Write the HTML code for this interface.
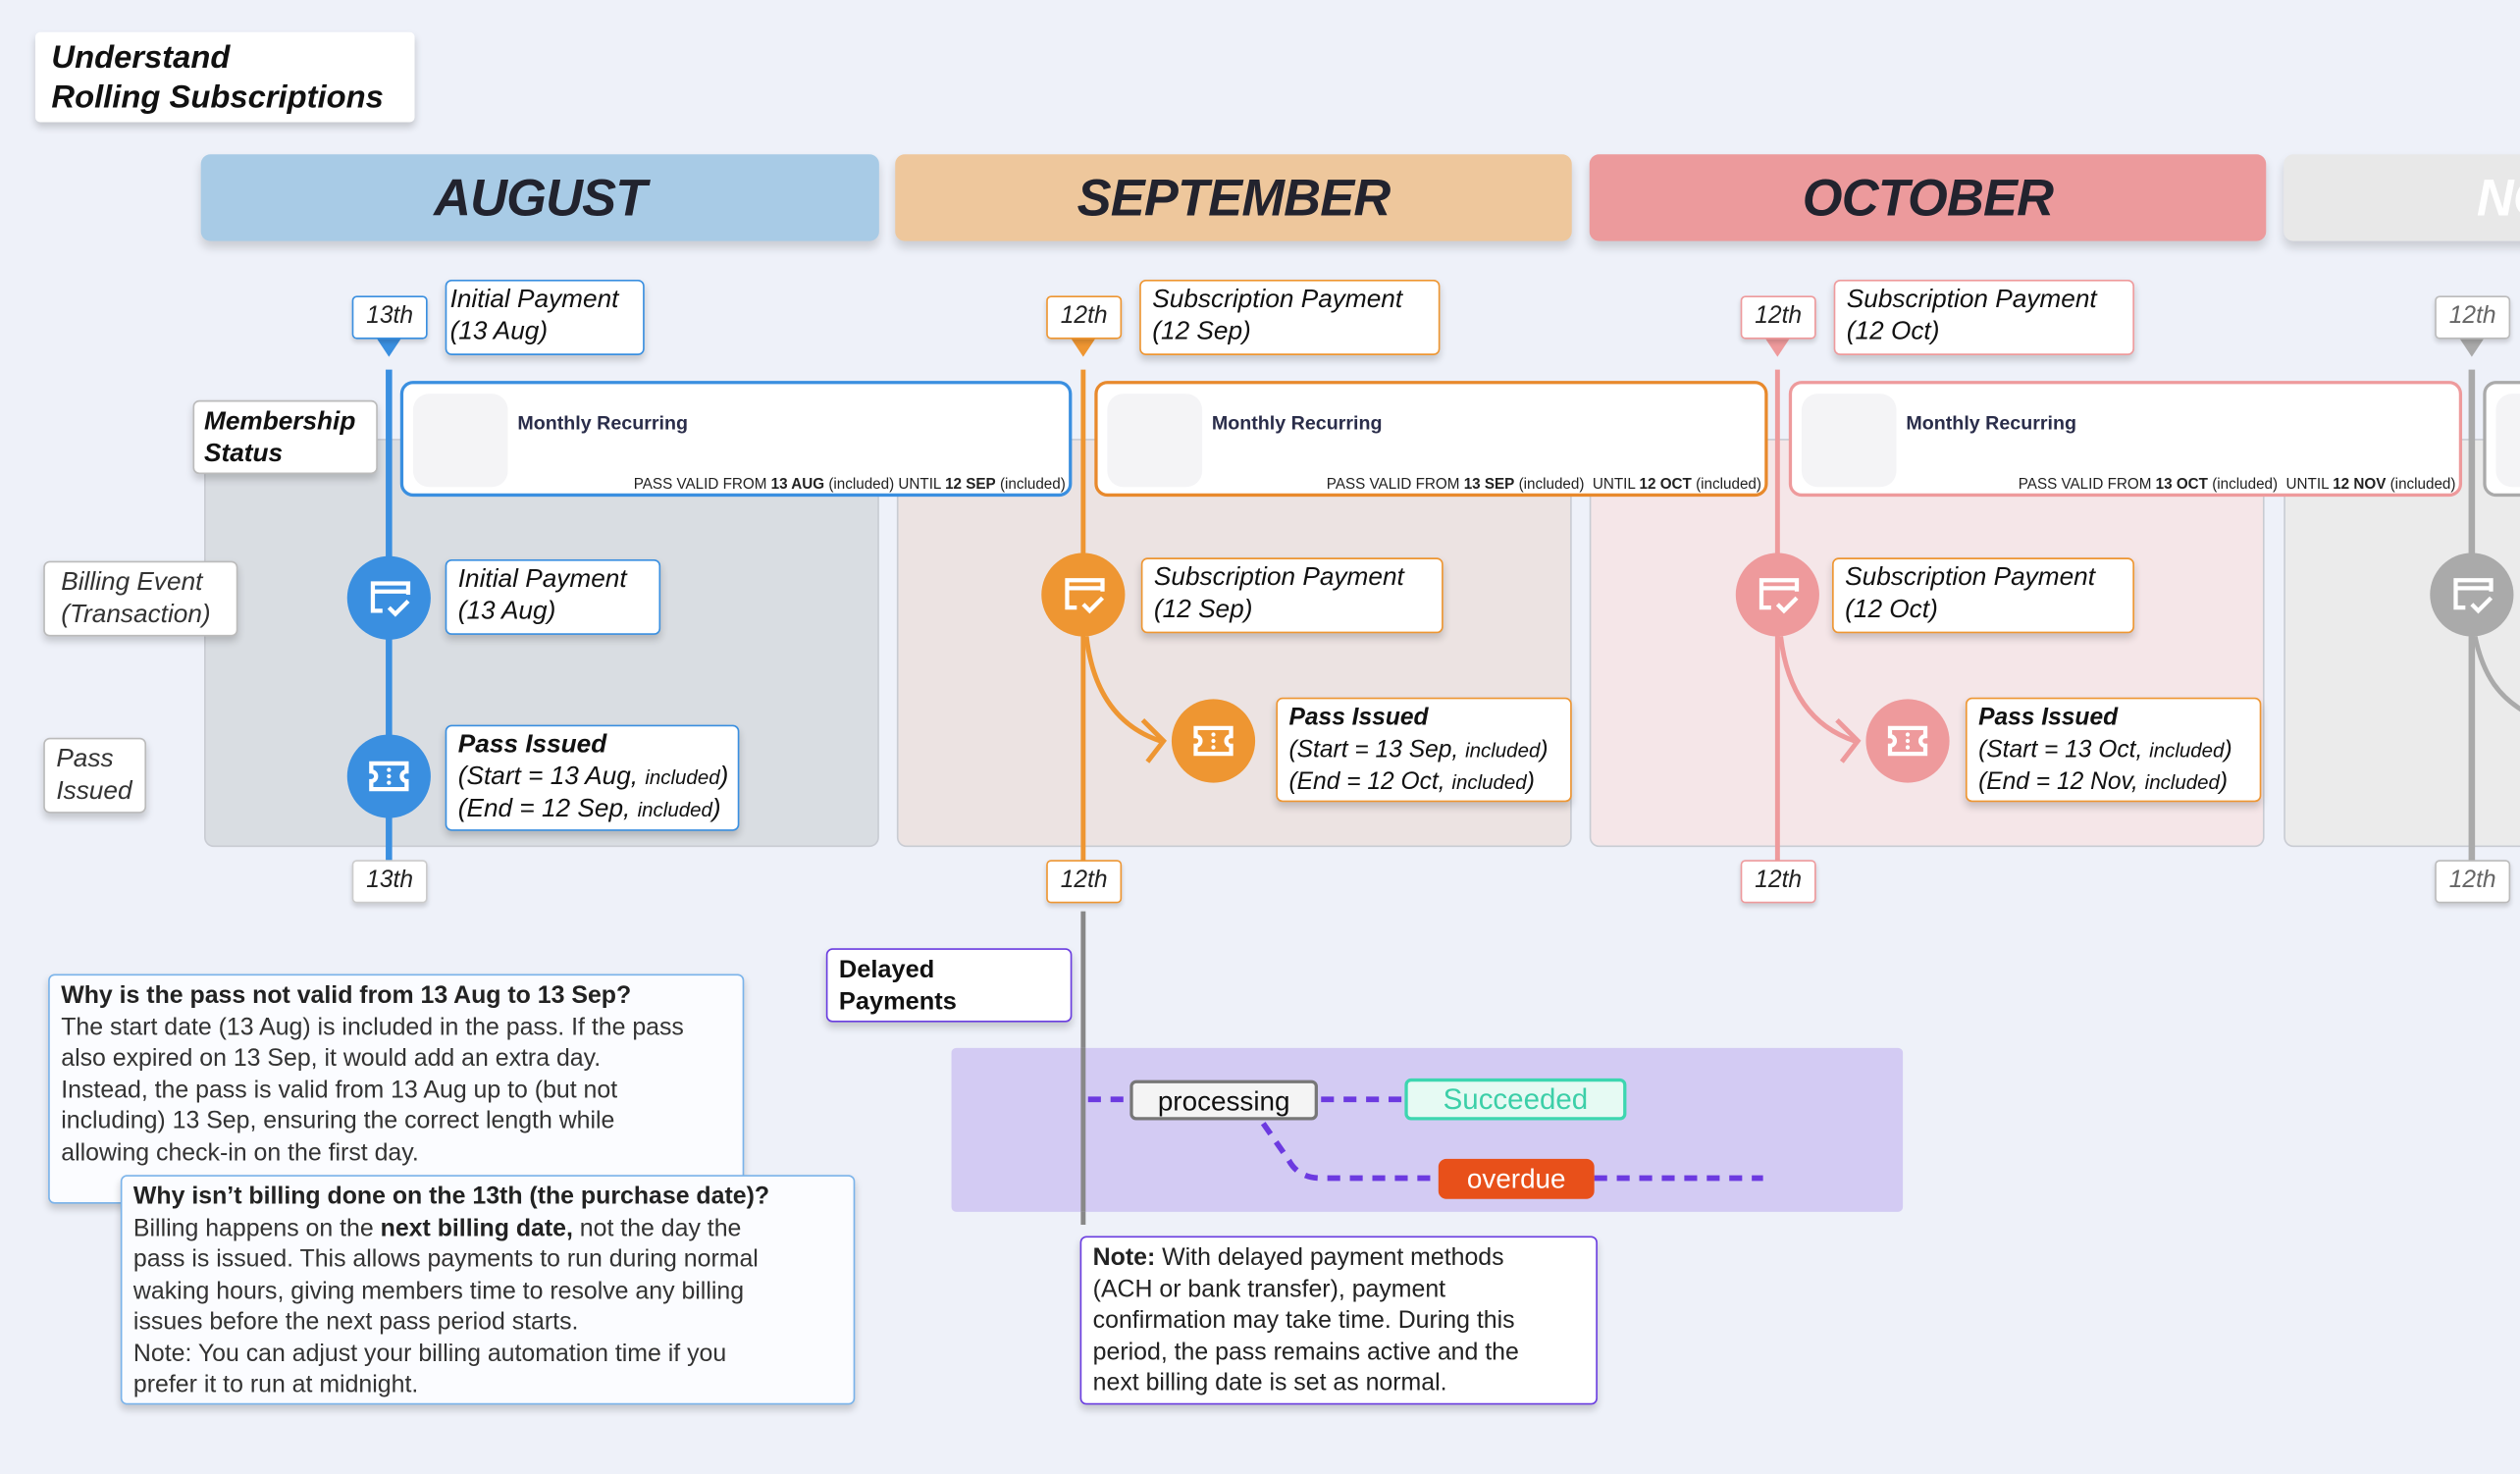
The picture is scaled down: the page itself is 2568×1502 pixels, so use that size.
<!DOCTYPE html>
<html><head><meta charset="utf-8"><style>
html,body{margin:0;padding:0;}
body{width:2568px;height:1502px;overflow:hidden;background:#eef1f9;font-family:"Liberation Sans",sans-serif;position:relative;}
#clip{position:absolute;left:0;top:0;width:2568px;height:1502px;overflow:hidden;}
#w{position:absolute;left:0;top:0;width:1568px;height:917px;transform:scale(1.63776);transform-origin:0 0;overflow:hidden;}
.a{position:absolute;box-sizing:border-box;}
.box{position:absolute;box-sizing:border-box;background:#fff;border:1.5px solid #ccc;border-radius:4px;box-shadow:0 3px 5px rgba(0,0,0,.18);color:#111;}
.hdr{position:absolute;top:96px;height:54px;border-radius:6px;box-shadow:0 4px 6px rgba(0,0,0,.15);font-weight:bold;font-style:italic;font-size:32px;color:#22232e;text-align:center;line-height:54px;letter-spacing:-0.5px;overflow:hidden;}
.panel{position:absolute;top:273px;height:254px;border:1px solid #c9ccd3;border-radius:6px;box-sizing:border-box;}
.tag{position:absolute;width:47px;height:27px;background:#fff;border:1.5px solid;border-radius:3px;box-sizing:border-box;font-style:italic;font-size:15px;text-align:center;line-height:24px;color:#222;box-shadow:0 2px 3px rgba(0,0,0,.15);}
.lbl{font-size:16px;line-height:19.5px;padding:2px 0 0 7px;font-style:italic;}
.status{position:absolute;top:237px;height:72px;background:#fff;border:2.5px solid;border-radius:8px;box-sizing:border-box;}
.status .sq{position:absolute;left:6px;top:6px;width:59px;height:58px;background:#f4f4f6;border-radius:10px;}
.status .mr{position:absolute;left:71px;top:17px;font-weight:bold;font-size:12px;color:#2a2d4a;}
.status .pv{position:absolute;right:2px;bottom:1px;font-size:9.3px;color:#222;white-space:nowrap;}
.note{font-size:15.2px;line-height:19.5px;color:#333;padding:3px 7px;white-space:nowrap;}
</style></head><body><div id="clip"><div id="w">

<div class="box" style="left:22px;top:20px;width:236px;height:56px;border:none;padding:4px 10px;font-weight:bold;font-style:italic;font-size:20px;line-height:24.5px;border-radius:3px;">Understand<br>Rolling Subscriptions</div>

<div class="hdr" style="left:125px;width:422px;background:#a8cbe6;">AUGUST</div>
<div class="hdr" style="left:557px;width:421px;background:#eec79c;">SEPTEMBER</div>
<div class="hdr" style="left:989px;width:421px;background:#ec9a9c;">OCTOBER</div>
<div class="hdr" style="left:1421px;width:421px;background:#e8e8e8;color:#fff;">NOVEMBER</div>

<div class="panel" style="left:127px;width:420px;background:#d9dde2;"></div>
<div class="panel" style="left:558px;width:420px;background:#ece3e2;"></div>
<div class="panel" style="left:989px;width:420px;background:#f5e6e8;"></div>
<div class="panel" style="left:1421px;width:200px;background:#ebebeb;"></div>

<svg class="a" style="left:0;top:0" width="1568" height="917">
 <line x1="242" y1="230" x2="242" y2="560" stroke="#3a8fe0" stroke-width="4"/>
 <line x1="674" y1="230" x2="674" y2="560" stroke="#ee9632" stroke-width="3"/>
 <line x1="1106" y1="230" x2="1106" y2="560" stroke="#ee9a9c" stroke-width="3"/>
 <line x1="1538" y1="230" x2="1538" y2="560" stroke="#aaa" stroke-width="4"/>
 <line x1="674" y1="567" x2="674" y2="762" stroke="#888" stroke-width="3"/>
 <path d="M676 396 C680 430 695 452 722 461" fill="none" stroke="#ee9632" stroke-width="3"/>
 <path d="M711 448 L724 461 L714 474" fill="none" stroke="#ee9632" stroke-width="3"/>
 <path d="M1108 396 C1112 430 1127 452 1154 461" fill="none" stroke="#ee9a9c" stroke-width="3"/>
 <path d="M1143 448 L1156 461 L1146 474" fill="none" stroke="#ee9a9c" stroke-width="3"/>
 <path d="M1540 396 C1545 420 1555 435 1575 445" fill="none" stroke="#aaa" stroke-width="3"/>
 <path d="M234 210 L250 210 L242 222 Z" fill="#3a8fe0"/>
 <path d="M666 210 L682 210 L674 222 Z" fill="#ee9632"/>
 <path d="M1098 210 L1114 210 L1106 222 Z" fill="#ee9a9c"/>
 <path d="M1530 210 L1546 210 L1538 222 Z" fill="#aaa"/>
</svg>

<div class="tag" style="left:219px;top:184px;border-color:#3a8fe0;">13th</div>
<div class="tag" style="left:651px;top:184px;border-color:#ee9632;">12th</div>
<div class="tag" style="left:1083px;top:184px;border-color:#ee9a9c;">12th</div>
<div class="tag" style="left:1515px;top:184px;border-color:#bbb;color:#666;">12th</div>
<div class="tag" style="left:219px;top:535px;border-color:#ccc;">13th</div>
<div class="tag" style="left:651px;top:535px;border-color:#ee9632;">12th</div>
<div class="tag" style="left:1083px;top:535px;border-color:#ee9a9c;">12th</div>
<div class="tag" style="left:1515px;top:535px;border-color:#bbb;color:#666;">12th</div>

<div class="box lbl" style="left:277px;top:174px;width:124px;height:47px;border-color:#3a8fe0;padding-left:2px;">Initial Payment<br>(13 Aug)</div>
<div class="box lbl" style="left:709px;top:174px;width:187px;height:47px;border-color:#ee9632;">Subscription Payment<br>(12 Sep)</div>
<div class="box lbl" style="left:1141px;top:174px;width:187px;height:47px;border-color:#ee9a9c;">Subscription Payment<br>(12 Oct)</div>

<div class="status" style="left:249px;width:418px;border-color:#3a8fe0;"><div class="sq"></div><div class="mr">Monthly Recurring</div><div class="pv">PASS VALID FROM <b>13 AUG</b> (included) UNTIL <b>12 SEP</b> (included)</div></div>
<div class="status" style="left:681px;width:419px;border-color:#e8892c;"><div class="sq"></div><div class="mr">Monthly Recurring</div><div class="pv">PASS VALID FROM <b>13 SEP</b> (included)&nbsp; UNTIL <b>12 OCT</b> (included)</div></div>
<div class="status" style="left:1113px;width:419px;border-color:#ee9a9c;"><div class="sq"></div><div class="mr">Monthly Recurring</div><div class="pv">PASS VALID FROM <b>13 OCT</b> (included)&nbsp; UNTIL <b>12 NOV</b> (included)</div></div>
<div class="status" style="left:1545px;width:100px;border-color:#aaa;"><div class="sq"></div></div>

<div class="box" style="left:120px;top:249px;width:115px;height:46px;border-color:#bbb;font-weight:bold;font-style:italic;font-size:16px;line-height:19.5px;padding:3px 6px;">Membership<br>Status</div>
<div class="box" style="left:27px;top:349px;width:121px;height:47px;border-color:#bbb;font-style:italic;font-size:16px;line-height:19.5px;padding:3px 10px;color:#333;">Billing Event<br>(Transaction)</div>
<div class="box" style="left:27px;top:459px;width:64px;height:47px;border-color:#bbb;font-style:italic;font-size:16px;line-height:19.5px;padding:3px 7px;color:#333;">Pass<br>Issued</div>

<svg width="0" height="0" style="position:absolute"><defs>
<g id="card"><path d="M-10 4 V-9 H12 V-2 M-10 -4 H12 M-10 4 V8 H-4" fill="none" stroke="#fff" stroke-width="2.6"/><path d="M0 6 L4 10 L12 2" fill="none" stroke="#fff" stroke-width="2.6"/></g>
<g id="tick"><path d="M-11 -8 H11 V-3 A3 3 0 0 0 11 3 V8 H-11 V3 A3 3 0 0 0 -11 -3 Z" fill="none" stroke="#fff" stroke-width="2.6"/><circle cx="0" cy="-4" r="1.3" fill="#fff"/><circle cx="0" cy="0" r="1.3" fill="#fff"/><circle cx="0" cy="4" r="1.3" fill="#fff"/></g>
</defs></svg>
<svg class="a" style="left:0;top:0" width="1568" height="917">
 <circle cx="242" cy="372" r="26" fill="#3a8fe0"/><use href="#card" x="242" y="372"/>
 <circle cx="242" cy="483" r="26" fill="#3a8fe0"/><use href="#tick" x="242" y="483"/>
 <circle cx="674" cy="370" r="26" fill="#ee9632"/><use href="#card" x="674" y="370"/>
 <circle cx="755" cy="461" r="26" fill="#ee9632"/><use href="#tick" x="755" y="461"/>
 <circle cx="1106" cy="370" r="26" fill="#ee9a9c"/><use href="#card" x="1106" y="370"/>
 <circle cx="1187" cy="461" r="26" fill="#ee9a9c"/><use href="#tick" x="1187" y="461"/>
 <circle cx="1538" cy="370" r="26" fill="#aaa"/><use href="#card" x="1538" y="370"/>
</svg>

<div class="box lbl" style="left:277px;top:348px;width:134px;height:47px;border-color:#3a8fe0;">Initial Payment<br>(13 Aug)</div>
<div class="box lbl" style="left:710px;top:347px;width:188px;height:47px;border-color:#ee9632;">Subscription Payment<br>(12 Sep)</div>
<div class="box lbl" style="left:1140px;top:347px;width:188px;height:47px;border-color:#ee9632;">Subscription Payment<br>(12 Oct)</div>

<div class="box lbl" style="left:277px;top:451px;width:183px;height:66px;border-color:#3a8fe0;"><b>Pass Issued</b><br>(Start = 13 Aug, <span style="font-size:12.5px">included</span>)<br>(End = 12 Sep, <span style="font-size:12.5px">included</span>)</div>
<div class="box lbl" style="left:794px;top:434px;width:184px;height:65px;border-color:#ee9632;font-size:15px;"><b>Pass Issued</b><br>(Start = 13 Sep, <span style="font-size:12.5px">included</span>)<br>(End = 12 Oct, <span style="font-size:12.5px">included</span>)</div>
<div class="box lbl" style="left:1223px;top:434px;width:184px;height:65px;border-color:#ee9632;font-size:15px;"><b>Pass Issued</b><br>(Start = 13 Oct, <span style="font-size:12.5px">included</span>)<br>(End = 12 Nov, <span style="font-size:12.5px">included</span>)</div>

<div class="box note" style="left:30px;top:606px;width:433px;height:143px;border-color:#7ab3ea;background:#fbfcff;"><b style="color:#222">Why is the pass not valid from 13 Aug to 13 Sep?</b><br>The start date (13 Aug) is included in the pass. If the pass<br>also expired on 13 Sep, it would add an extra day.<br>Instead, the pass is valid from 13 Aug up to (but not<br>including) 13 Sep, ensuring the correct length while<br>allowing check-in on the first day.</div>
<div class="box note" style="left:75px;top:731px;width:457px;height:143px;border-color:#7ab3ea;background:#fbfcff;"><b style="color:#222">Why isn’t billing done on the 13th (the purchase date)?</b><br>Billing happens on the <b style="color:#222">next billing date,</b> not the day the<br>pass is issued. This allows payments to run during normal<br>waking hours, giving members time to resolve any billing<br>issues before the next pass period starts.<br>Note: You can adjust your billing automation time if you<br>prefer it to run at midnight.</div>

<div class="box" style="left:514px;top:590px;width:153px;height:46px;border-color:#6a3de0;font-weight:bold;font-size:15.5px;line-height:19.5px;padding:3px 7px;">Delayed<br>Payments</div>

<div class="a" style="left:592px;top:652px;width:592px;height:102px;background:#d3cbf3;border-radius:3px;"></div>
<svg class="a" style="left:0;top:0" width="1568" height="917">
 <line x1="674" y1="652" x2="674" y2="754" stroke="#888" stroke-width="3"/>
 <g stroke="#6c3ae0" stroke-width="3.5" stroke-dasharray="8 6" fill="none">
  <line x1="677" y1="684" x2="703" y2="684"/>
  <line x1="822" y1="684" x2="874" y2="684"/>
  <path d="M786 699 L802 722 Q808 733 822 733 L895 733"/>
  <line x1="992" y1="733" x2="1097" y2="733"/>
 </g>
</svg>
<div class="a" style="left:703px;top:672px;width:117px;height:25px;background:#f4f4f4;border:2px solid #777;border-radius:4px;font-size:17px;text-align:center;line-height:23px;color:#111;">processing</div>
<div class="a" style="left:874px;top:671px;width:138px;height:26px;background:#e6faf3;border:2px solid #3dd6b0;border-radius:4px;font-size:18px;text-align:center;line-height:23px;color:#3ccfa8;">Succeeded</div>
<div class="a" style="left:895px;top:721px;width:97px;height:25px;background:#e8501a;border-radius:5px;font-size:17px;text-align:center;line-height:25px;color:#fff;">overdue</div>

<div class="box note" style="left:672px;top:769px;width:322px;height:105px;border-color:#6a3de0;color:#222;"><b>Note:</b> With delayed payment methods<br>(ACH or bank transfer), payment<br>confirmation may take time. During this<br>period, the pass remains active and the<br>next billing date is set as normal.</div>

</div></div></body></html>
